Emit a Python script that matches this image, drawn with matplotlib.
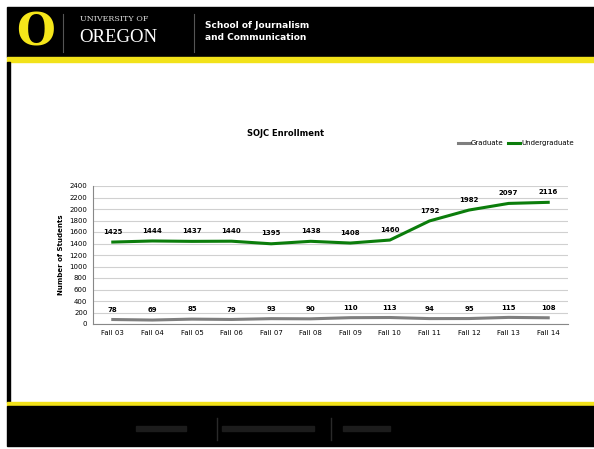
import numpy as np
import matplotlib.pyplot as plt
from matplotlib.patches import Rectangle

# data
terms = ["Fall 03", "Fall 04", "Fall 05", "Fall 06", "Fall 07", "Fall 08",
         "Fall 09", "Fall 10", "Fall 11", "Fall 12", "Fall 13", "Fall 14"]
graduate = [78, 69, 85, 79, 93, 90, 110, 113, 94, 95, 115, 108]
undergrad = [1425, 1444, 1437, 1440, 1395, 1438, 1408, 1460, 1792, 1982, 2097, 2116]
yticks = list(range(0, 2401, 200))

W, H = 594, 449
fig = plt.figure(figsize=(W / 100, H / 100), dpi=100)

# slide background (pixel coords)
bg = fig.add_axes([0, 0, 1, 1])
bg.set_xlim(0, W)
bg.set_ylim(H, 0)
bg.axis("off")
bg.add_patch(Rectangle((7, 7), W - 7, 50, color="black"))
bg.add_patch(Rectangle((7, 57), W - 7, 5, color="#f2e21a"))
bg.add_patch(Rectangle((7, 62), 3, 340, color="black"))
bg.add_patch(Rectangle((7, 402), W - 7, 4, color="#f2e21a"))
bg.add_patch(Rectangle((7, 406), W - 7, 40, color="black"))

# header logo + text
bg.text(36, 33, "O", color="#f5e61a", fontsize=32, fontweight="bold",
        family="DejaVu Serif", ha="center", va="center")
bg.plot([63, 63], [14, 52], color="#555555", lw=0.8)
bg.text(80, 19, "UNIVERSITY OF", color="#dddddd", fontsize=5.8,
        family="DejaVu Serif", va="center")
bg.text(79, 37, "OREGON", color="white", fontsize=13.5,
        family="Liberation Serif", va="center")
bg.plot([194, 194], [14, 52], color="#555555", lw=0.8)
bg.text(205, 25, "School of Journalism", color="white", fontsize=6.5,
        fontweight="bold", va="center")
bg.text(205, 38, "and Communication", color="white", fontsize=6.5,
        fontweight="bold", va="center")

# faint footer marks
for x0, x1 in [(136, 186), (222, 314), (343, 390)]:
    bg.add_patch(Rectangle((x0, 426), x1 - x0, 5, color="#1c1c1c"))
for xd in [217, 331]:
    bg.plot([xd, xd], [418, 440], color="#2a2a2a", lw=1)

# chart
ax = fig.add_axes([93 / W, 1 - 324 / H, 475 / W, 138 / H])
x = np.arange(len(terms))
ax.plot(x, graduate, color="#7f7f7f", lw=2.2, label="Graduate")
ax.plot(x, undergrad, color="#0b7d0b", lw=2.2, label="Undergraduate")
for xi, v in zip(x, graduate):
    ax.annotate(str(v), (xi, v), xytext=(0, 7), textcoords="offset points",
                ha="center", va="center", fontsize=5, fontweight="bold")
for xi, v in zip(x, undergrad):
    ax.annotate(str(v), (xi, v), xytext=(0, 7.5), textcoords="offset points",
                ha="center", va="center", fontsize=5, fontweight="bold")

ax.set_xlim(-0.5, len(terms) - 0.5)
ax.set_ylim(0, 2400)
ax.set_yticks(yticks)
ax.set_xticks(x)
ax.set_xticklabels(terms)
ax.tick_params(labelsize=5, length=0, pad=4)
ax.grid(axis="y", color="#d0d0d0", lw=0.8)
ax.set_axisbelow(True)
for s in ["top", "right"]:
    ax.spines[s].set_visible(False)
ax.spines["left"].set_color("#888888")
ax.spines["bottom"].set_color("#888888")
ax.spines["left"].set_linewidth(0.8)
ax.spines["bottom"].set_linewidth(0.8)
ax.set_ylabel("Number of Students", fontsize=5, fontweight="bold", labelpad=4)

ax.legend(loc="center right", bbox_to_anchor=(1.025, 1.31), ncol=2, frameon=False,
          fontsize=5, handlelength=1.8, handletextpad=0.1, columnspacing=0.6)

fig.text(286 / W, 1 - 133 / H, "SOJC Enrollment", fontsize=6,
         fontweight="bold", ha="center", va="center")

fig.savefig("out.png", dpi=100)
